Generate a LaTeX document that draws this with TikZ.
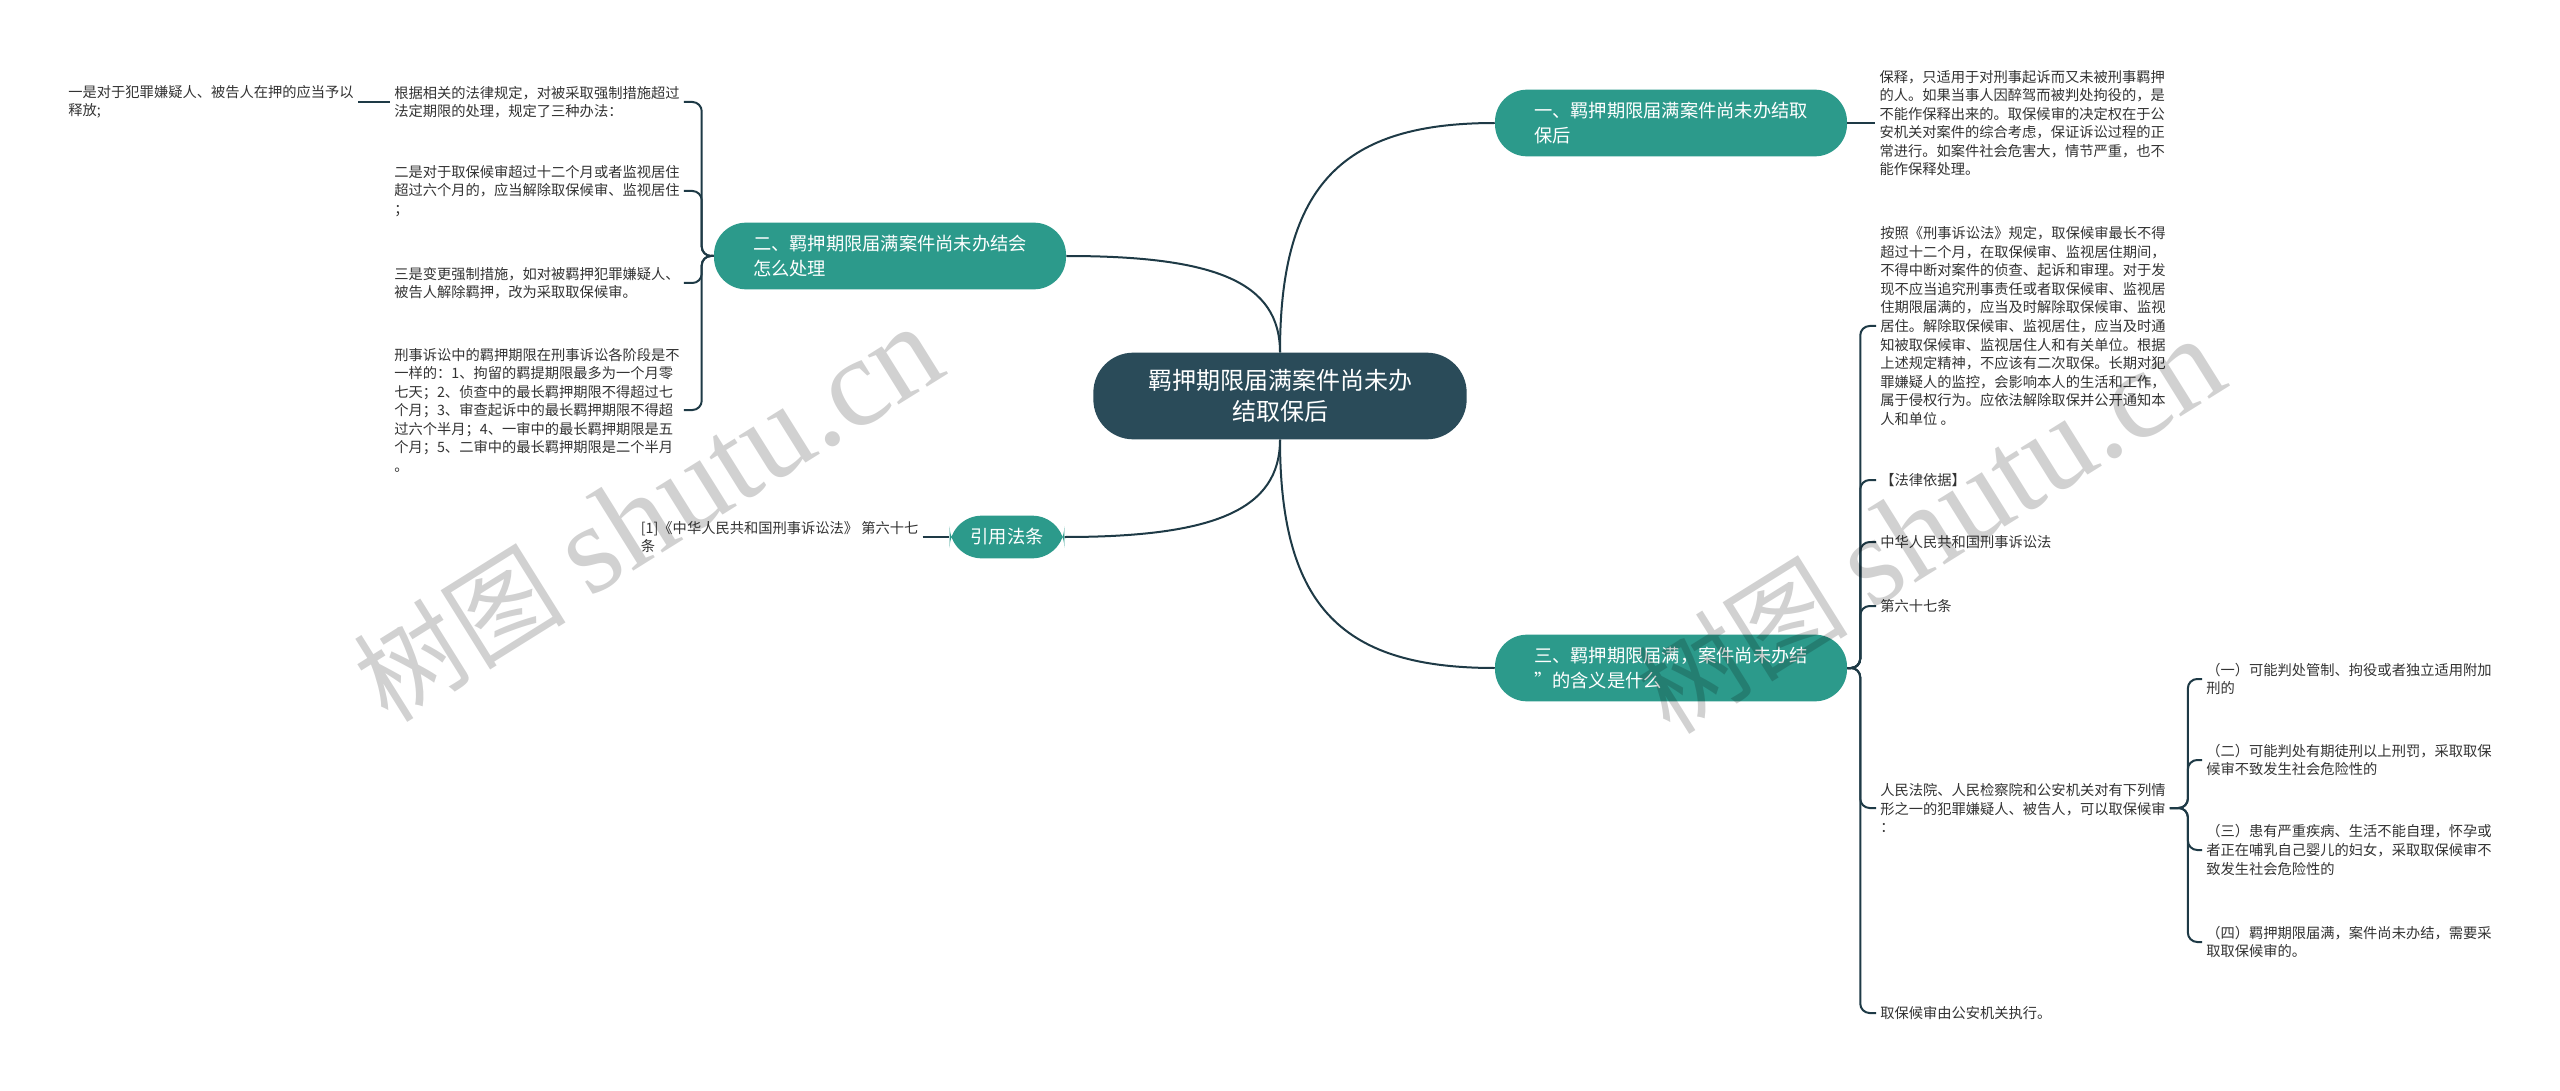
\documentclass[tikz,border=0pt]{standalone}
\usepackage{fontspec}
\setmainfont{Noto Sans CJK SC}
\newfontfamily\wmfont{Liberation Serif}
\usetikzlibrary{positioning}
\definecolor{hubcol}{HTML}{2A4B59}
\definecolor{tealcol}{HTML}{2C9A8B}
\definecolor{linecol}{HTML}{1E3A46}
\definecolor{txtcol}{HTML}{333333}

\begin{document}
\begin{tikzpicture}[x=0.75pt, y=-0.75pt,
  m/.style={rectangle, rounded corners=30pt, fill=hubcol, text=white, align=center, minimum width=280pt, minimum height=65pt, font=\fontsize{18pt}{23pt}\selectfont},
  t/.style={rectangle, rounded corners=24pt, fill=tealcol, text=white, align=left, minimum width=264pt, minimum height=50pt, font=\fontsize{13.7pt}{18.5pt}\selectfont},
  l/.style={align=left, inner sep=3pt, text=txtcol, font=\fontsize{10.7pt}{13.9pt}\selectfont},
  s/.style={draw=linecol, line width=1.5pt, rounded corners=7pt},
  w/.style={rotate=32, text=black, opacity=0.18, font=\fontsize{80pt}{80pt}\selectfont}]
	\fill[white] (0,0) rectangle (2560,1091);
	\useasboundingbox (0,0) rectangle (2560,1091);

	% main and branches
	\node[m] (main) at (1280,396) {羁押期限届满案件尚未办\\结取保后};
	\node[t] (n1) at (1671,123) {一、羁押期限届满案件尚未办结取\\保后};
	\node[t] (n2) at (890,256) {二、羁押期限届满案件尚未办结会\\怎么处理};
	\node[t] (n3) at (1671,668) {三、羁押期限届满，案件尚未办结\\”的含义是什么};
	\node[t, minimum width=86pt, minimum height=32pt, align=center] (n4) at (1007,537) {引用法条};

	% left leaves
	\node[l, anchor=west] (L1) at (390,102) {根据相关的法律规定，对被采取强制措施超过\\法定期限的处理，规定了三种办法：};
	\node[l, left=24pt of L1] (L0) {一是对于犯罪嫌疑人、被告人在押的应当予以\\释放;};
	\node[l, anchor=west] (L2) at (390,191) {二是对于取保候审超过十二个月或者监视居住\\超过六个月的，应当解除取保候审、监视居住\\；};
	\node[l, anchor=west] (L3) at (390,283) {三是变更强制措施，如对被羁押犯罪嫌疑人、\\被告人解除羁押，改为采取取保候审。};
	\node[l, anchor=west] (L4) at (390,410) {刑事诉讼中的羁押期限在刑事诉讼各阶段是不\\一样的：1、拘留的羁提期限最多为一个月零\\七天；2、侦查中的最长羁押期限不得超过七\\个月；3、审查起诉中的最长羁押期限不得超\\过六个半月；4、一审中的最长羁押期限是五\\个月；5、二审中的最长羁押期限是二个半月\\。};
	\node[l, left=20pt of n4] (C1) {[1]《中华人民共和国刑事诉讼法》 第六十七\\条};

	% right leaves
	\node[l, right=21pt of n1] (R0) {保释，只适用于对刑事起诉而又未被刑事羁押\\的人。如果当事人因醉驾而被判处拘役的，是\\不能作保释出来的。取保候审的决定权在于公\\安机关对案件的综合考虑，保证诉讼过程的正\\常进行。如案件社会危害大，情节严重，也不\\能作保释处理。};
	\node[l, anchor=west] (R1) at (1876,326) {按照《刑事诉讼法》规定，取保候审最长不得\\超过十二个月，在取保候审、监视居住期间，\\不得中断对案件的侦查、起诉和审理。对于发\\现不应当追究刑事责任或者取保候审、监视居\\住期限届满的，应当及时解除取保候审、监视\\居住。解除取保候审、监视居住，应当及时通\\知被取保候审、监视居住人和有关单位。根据\\上述规定精神，不应该有二次取保。长期对犯\\罪嫌疑人的监控，会影响本人的生活和工作，\\属于侵权行为。应依法解除取保并公开通知本\\人和单位 。};
	\node[l, anchor=west] (R2) at (1876,480) {【法律依据】};
	\node[l, anchor=west] (R3) at (1876,542) {中华人民共和国刑事诉讼法};
	\node[l, anchor=west] (R4) at (1876,606) {第六十七条};
	\node[l, anchor=west] (R5) at (1876,808) {人民法院、人民检察院和公安机关对有下列情\\形之一的犯罪嫌疑人、被告人，可以取保候审\\：};
	\node[l, anchor=west] (R6) at (1876,1013) {取保候审由公安机关执行。};
	\node[l, anchor=west] (G1) at (2202,679) {（一）可能判处管制、拘役或者独立适用附加\\刑的};
	\node[l, anchor=west] (G2) at (2202,760) {（二）可能判处有期徒刑以上刑罚，采取取保\\候审不致发生社会危险性的};
	\node[l, anchor=west] (G3) at (2202,850) {（三）患有严重疾病、生活不能自理，怀孕或\\者正在哺乳自己婴儿的妇女，采取取保候审不\\致发生社会危险性的};
	\node[l, anchor=west] (G4) at (2202,942) {（四）羁押期限届满，案件尚未办结，需要采\\取取保候审的。};

	% links
	\draw[s] (main.north) .. controls +(0,-170) and +(-150,0) .. (n1.west);
	\draw[s] (main.north) .. controls +(0,-70) and +(150,0) .. (n2.east);
	\draw[s] (main.south) .. controls +(0,70) and +(150,0) .. (n4.east);
	\draw[s] (main.south) .. controls +(0,170) and +(-150,0) .. (n3.west);
	\draw[s] (n1.east) -- (R0.west);
	\draw[s] (C1.east) -- (n4.west);
	\draw[s] (L0.east) -- (L1.west);
	\foreach \k in {L1,L2,L3,L4}
		\draw[s] (n2.west) -- ++(-12,0) |- (\k.east);
	\foreach \k in {R1,R2,R3,R4,R5,R6}
		\draw[s] (n3.east) -- ++(13,0) |- (\k.west);
	\foreach \k in {G1,G2,G3,G4}
		\draw[s] (R5.east) -- ++(18,0) |- (\k.west);

	% watermark
	\node[w] (wm1) at (648,514) {树图 {\wmfont\fontsize{95pt}{95pt}\selectfont shutu.cn}};
	\node[w] (wm2) at (1930,526) {树图 {\wmfont\fontsize{95pt}{95pt}\selectfont shutu.cn}};
\end{tikzpicture}
\end{document}
